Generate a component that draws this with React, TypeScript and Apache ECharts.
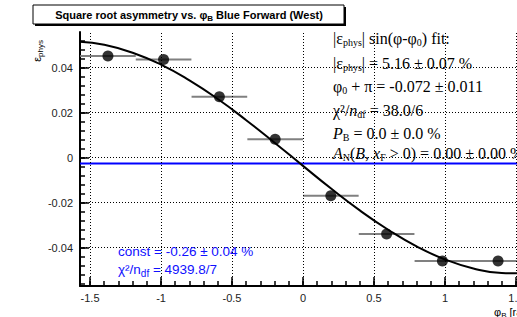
import React, { useEffect, useRef } from "react";
import * as echarts from "echarts";

// Data points (bin centers, half widths, asymmetry values)
const binCenters = [-1.374, -0.982, -0.589, -0.196, 0.196, 0.589, 0.982, 1.374];
const binHalfWidths = [0.196, 0.196, 0.196, 0.196, 0.196, 0.196, 0.196, 0.196];
const asymValues = [0.0451, 0.0436, 0.027, 0.0081, -0.017, -0.034, -0.046, -0.046];

// Fit curve
const fitX = [-1.571, -1.4, -1.2, -1.0, -0.8, -0.6, -0.4, -0.2, 0, 0.2, 0.4, 0.6, 0.8, 1.0, 1.2, 1.4, 1.571];
const fitY = [0.0515, 0.0501, 0.0466, 0.0413, 0.0343, 0.026, 0.0166, 0.0066, -0.0037, -0.0139, -0.0235, -0.0321, -0.0395, -0.0453, -0.0493, -0.0513, -0.0515];

// Constant fit
const constValue = -0.0026;

// Ticks
const xTickValues = [-1.5, -1, -0.5, 0, 0.5, 1, 1.5];
const xTickLabels = ["-1.5", "-1", "-0.5", "0", "0.5", "1", "1.5"];
const yTickValues = [-0.04, -0.02, 0, 0.02, 0.04];
const yTickLabels = ["-0.04", "-0.02", "0", "0.02", "0.04"];

const X_MIN = -Math.PI / 2;
const X_MAX = Math.PI / 2;
const Y_MIN = -0.0571;
const Y_MAX = 0.0558;

const xMinor: number[] = [];
for (let i = 0; i <= 30; i++) xMinor.push(Math.round((-1.5 + i * 0.1) * 10) / 10);
const yMinor: number[] = [];
for (let i = 0; i <= 27; i++) yMinor.push(Math.round((-0.056 + i * 0.004) * 1000) / 1000);

function labelFor(values: number[], labels: string[], v: number) {
  for (let i = 0; i < values.length; i++) if (Math.abs(values[i] - v) < 1e-9) return labels[i];
  return "";
}

const serif = "'Liberation Serif', 'DejaVu Serif', serif";
const sans = "'Liberation Sans', Arial, sans-serif";

export default function App() {
  const ref = useRef<HTMLDivElement>(null);
  useEffect(() => {
    if (!ref.current) return;
    const chart = echarts.init(ref.current, null, { renderer: "svg" });
    const statFont = 16;
    const richSerif = {
      sub: { fontSize: 10, padding: [8, 0, 0, 0], fontFamily: serif },
      i: { fontStyle: "italic", fontSize: statFont, fontFamily: serif },
    };
    const statLines = [
      { y: 38, t: "|ε{sub|phys}| sin(φ-φ{sub|0}) fit:" },
      { y: 63, t: "|ε{sub|phys}| = 5.16 ± 0.07 %" },
      { y: 86, t: "φ{sub|0} + π = -0.072 ± 0.011" },
      { y: 110, t: "χ²/{i|n}{sub|df} = 38.0/6" },
      { y: 133, t: "{i|P}{sub|B} = 0.0 ± 0.0 %" },
      { y: 153, t: "{i|A}{sub|N}({i|B}, {i|x}{sub|F} > 0) = 0.00 ± 0.00 %" },
    ];
    const graphics: any[] = [
      { type: "rect", shape: { x: 35, y: 7, width: 311, height: 19 }, style: { fill: "#000" }, z: 10 },
      { type: "rect", shape: { x: 33, y: 5, width: 311, height: 19 }, style: { fill: "#fff", stroke: "#000", lineWidth: 1 }, z: 11 },
      {
        type: "text", x: 189, y: 15, z: 12,
        style: {
          text: "Square root asymmetry vs. φ{s|B} Blue Forward (West)",
          fontFamily: sans, fontSize: 11, fontWeight: "bold", fill: "#000",
          align: "center", verticalAlign: "middle",
          rich: { s: { fontSize: 8, fontWeight: "bold", fontFamily: sans, padding: [6, 0, 0, 0] } },
        },
      },
      {
        type: "text", x: 37, y: 40, rotation: Math.PI / 2, z: 12,
        style: {
          text: "ε{s|phys}", fontFamily: sans, fontSize: 11, fill: "#000",
          align: "right", verticalAlign: "middle",
          rich: { s: { fontSize: 8, fontFamily: sans, padding: [6, 0, 0, 0] } },
        },
      },
      {
        type: "text", x: 494, y: 312, z: 12,
        style: {
          text: "φ{s|B} [rad]", fontFamily: sans, fontSize: 11, fill: "#000",
          align: "left", verticalAlign: "middle",
          rich: { s: { fontSize: 8, fontFamily: sans, padding: [6, 0, 0, 0] } },
        },
      },
      ...statLines.map((l) => ({
        type: "text", x: 333, y: l.y, z: 12,
        style: { text: l.t, fontFamily: serif, fontSize: statFont, fill: "#000", align: "left", verticalAlign: "middle", rich: richSerif },
      })),
      {
        type: "text", x: 118, y: 251, z: 12,
        style: { text: "const = -0.26 ± 0.04 %", fontFamily: sans, fontSize: 13.5, fill: "#1010ff", align: "left", verticalAlign: "middle" },
      },
      {
        type: "text", x: 118, y: 269, z: 12,
        style: {
          text: "χ²/n{s|df} = 4939.8/7", fontFamily: sans, fontSize: 13.5, fill: "#1010ff", align: "left", verticalAlign: "middle",
          rich: { s: { fontSize: 10, fontFamily: sans, fill: "#1010ff", padding: [8, 0, 0, 0] } },
        },
      },
    ];

    const gridLineStyle = { color: "#000", width: 1, type: [1, 2] as any };
    const errData = binCenters.map((x, i) => [x, asymValues[i], binHalfWidths[i]]);

    chart.setOption({
      animation: false,
      backgroundColor: "#fff",
      grid: { left: 80, right: 4, top: 32, bottom: 31, containLabel: false },
      xAxis: [
        {
          type: "value", min: X_MIN, max: X_MAX,
          axisLine: { show: true, onZero: false, lineStyle: { color: "#000", width: 2 } },
          axisTick: { show: true, inside: true, length: 9, customValues: xTickValues, lineStyle: { color: "#000", width: 1.5 } },
          axisLabel: {
            show: true, customValues: xTickValues, margin: 6,
            formatter: (v: number) => labelFor(xTickValues, xTickLabels, v),
            fontFamily: sans, fontSize: 11, color: "#222",
          },
          splitLine: { show: false },
        },
        {
          type: "value", min: X_MIN, max: X_MAX, position: "bottom",
          axisLine: { show: false, onZero: false },
          axisTick: { show: true, inside: true, length: 5, customValues: xMinor, lineStyle: { color: "#000", width: 1.5 } },
          axisLabel: { show: false },
          splitLine: { show: false },
        },
      ],
      yAxis: [
        {
          type: "value", min: Y_MIN, max: Y_MAX,
          axisLine: { show: true, onZero: false, lineStyle: { color: "#000", width: 2 } },
          axisTick: { show: true, inside: true, length: 9, customValues: yTickValues, lineStyle: { color: "#000", width: 1.5 } },
          axisLabel: {
            show: true, customValues: yTickValues, margin: 7,
            formatter: (v: number) => labelFor(yTickValues, yTickLabels, v),
            fontFamily: sans, fontSize: 11, color: "#222",
          },
          splitLine: { show: false },
        },
        {
          type: "value", min: Y_MIN, max: Y_MAX, position: "left",
          axisLine: { show: false, onZero: false },
          axisTick: { show: true, inside: true, length: 5, customValues: yMinor, lineStyle: { color: "#000", width: 1.5 } },
          axisLabel: { show: false },
          splitLine: { show: false },
        },
      ],
      series: [
        {
          type: "line", data: [], silent: true, z: 1,
          markLine: {
            silent: true, symbol: "none", animation: false, label: { show: false },
            lineStyle: gridLineStyle,
            data: [
              ...xTickValues.map((v) => ({ xAxis: v })),
              ...yTickValues.map((v) => ({ yAxis: v })),
            ],
          },
        },
        {
          type: "line", silent: true, z: 3, showSymbol: false,
          data: [[X_MIN, constValue], [X_MAX, constValue]],
          lineStyle: { color: "#0000ff", width: 2 },
        },
        {
          type: "custom", z: 4,
          renderItem: (params: any, api: any) => {
            const x = api.value(0), y = api.value(1), e = api.value(2);
            const p1 = api.coord([x - e, y]);
            const p2 = api.coord([x + e, y]);
            return { type: "line", shape: { x1: p1[0], y1: p1[1], x2: p2[0], y2: p2[1] }, style: { stroke: "#808080", lineWidth: 2 } };
          },
          data: errData,
        },
        {
          type: "line", smooth: true, showSymbol: false, z: 5,
          data: fitX.map((x, i) => [x, fitY[i]]),
          lineStyle: { color: "#000", width: 2 },
        },
        {
          type: "scatter", z: 6, symbol: "circle", symbolSize: 11,
          itemStyle: { color: "#000" },
          data: binCenters.map((x, i) => [x, asymValues[i]]),
        },
      ],
      graphic: graphics,
    });
    return () => chart.dispose();
  }, []);
  return (
    <div style={{ position: "fixed", left: 0, top: 0, width: 517, height: 317, overflow: "hidden", background: "#fff" }}>
      <div ref={ref} style={{ width: 530, height: 317 }} />
    </div>
  );
}
